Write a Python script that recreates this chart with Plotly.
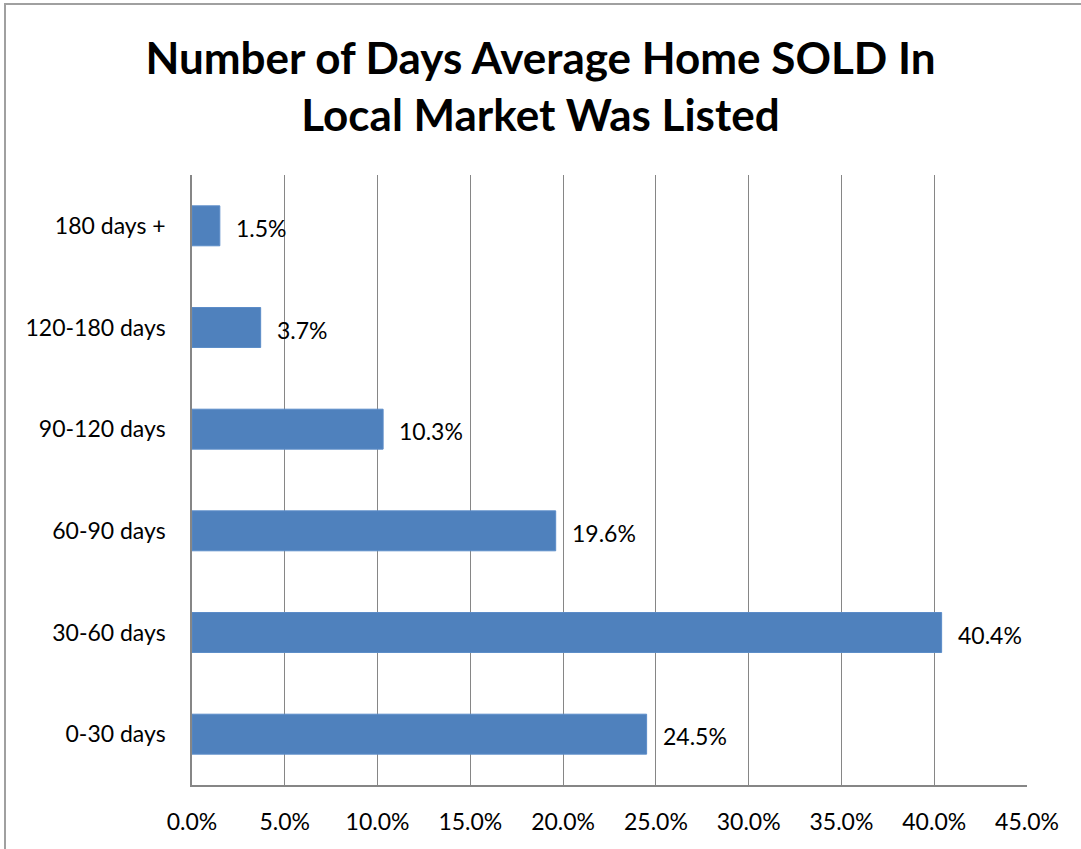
import plotly.graph_objects as go

categories = ["0-30 days", "30-60 days", "60-90 days", "90-120 days", "120-180 days", "180 days +"]
values = [24.5, 40.4, 19.6, 10.3, 3.7, 1.5]
x_ticks = [0, 5, 10, 15, 20, 25, 30, 35, 40, 45]
title_lines = ["Number of Days Average Home SOLD In", "Local Market Was Listed"]

FONT = "Lato, Carlito, Calibri, sans-serif"
BAR = "#4F81BD"
GRID = "#868686"

fig = go.Figure()
fig.add_trace(go.Bar(
    x=values, y=categories, orientation="h",
    marker=dict(color=BAR, line=dict(color="#5B8CC8", width=1)),
    hoverinfo="x+y",
))

for v, c in zip(values, categories):
    fig.add_annotation(x=v, y=c, text=f"{v:.1f}%", showarrow=False,
                       xanchor="left", yanchor="middle", xshift=14, yshift=-2,
                       font=dict(family=FONT, size=23, color="black"))

W, H = 1081, 849
ml, mr, mt, mb = 192, 54, 175, 64
pw, ph = W - ml - mr, H - mt - mb

# outer chart frame (top and left edges visible)
fig.add_shape(type="rect", xref="paper", yref="paper",
              x0=(5 - ml) / pw, x1=(W + 20 - ml) / pw,
              y0=-(mb + 20) / ph, y1=(H - 4 - mb) / ph,
              line=dict(color="#A0A0A0", width=2), layer="below")

fig.update_layout(
    width=W, height=H,
    margin=dict(l=ml, r=mr, t=mt, b=mb),
    paper_bgcolor="white", plot_bgcolor="white",
    showlegend=False,
    bargap=0.607,
    title=dict(text="<br>".join(title_lines), x=0.5, xanchor="center",
               y=1 - 74 / H, yanchor="middle",
               font=dict(family=FONT, size=44, color="black", weight="bold")),
    xaxis=dict(range=[0, 45], tickvals=x_ticks, ticktext=[f"{t:.1f}%" for t in x_ticks],
               showgrid=True, gridcolor=GRID, gridwidth=1,
               showline=True, linecolor=GRID, linewidth=1.5,
               zeroline=False, ticks="", ticklabelstandoff=16,
               tickfont=dict(family=FONT, size=23, color="black"), fixedrange=True),
    yaxis=dict(categoryorder="array", categoryarray=categories,
               showgrid=False, showline=True, linecolor=GRID, linewidth=1.5,
               ticks="", ticklabelstandoff=20,
               tickfont=dict(family=FONT, size=23, color="black"), fixedrange=True),
    font=dict(family=FONT),
)

fig.write_html("out.html", config={"displayModeBar": False},
               post_script="document.body.style.margin='0px';document.body.style.overflow='hidden';")
